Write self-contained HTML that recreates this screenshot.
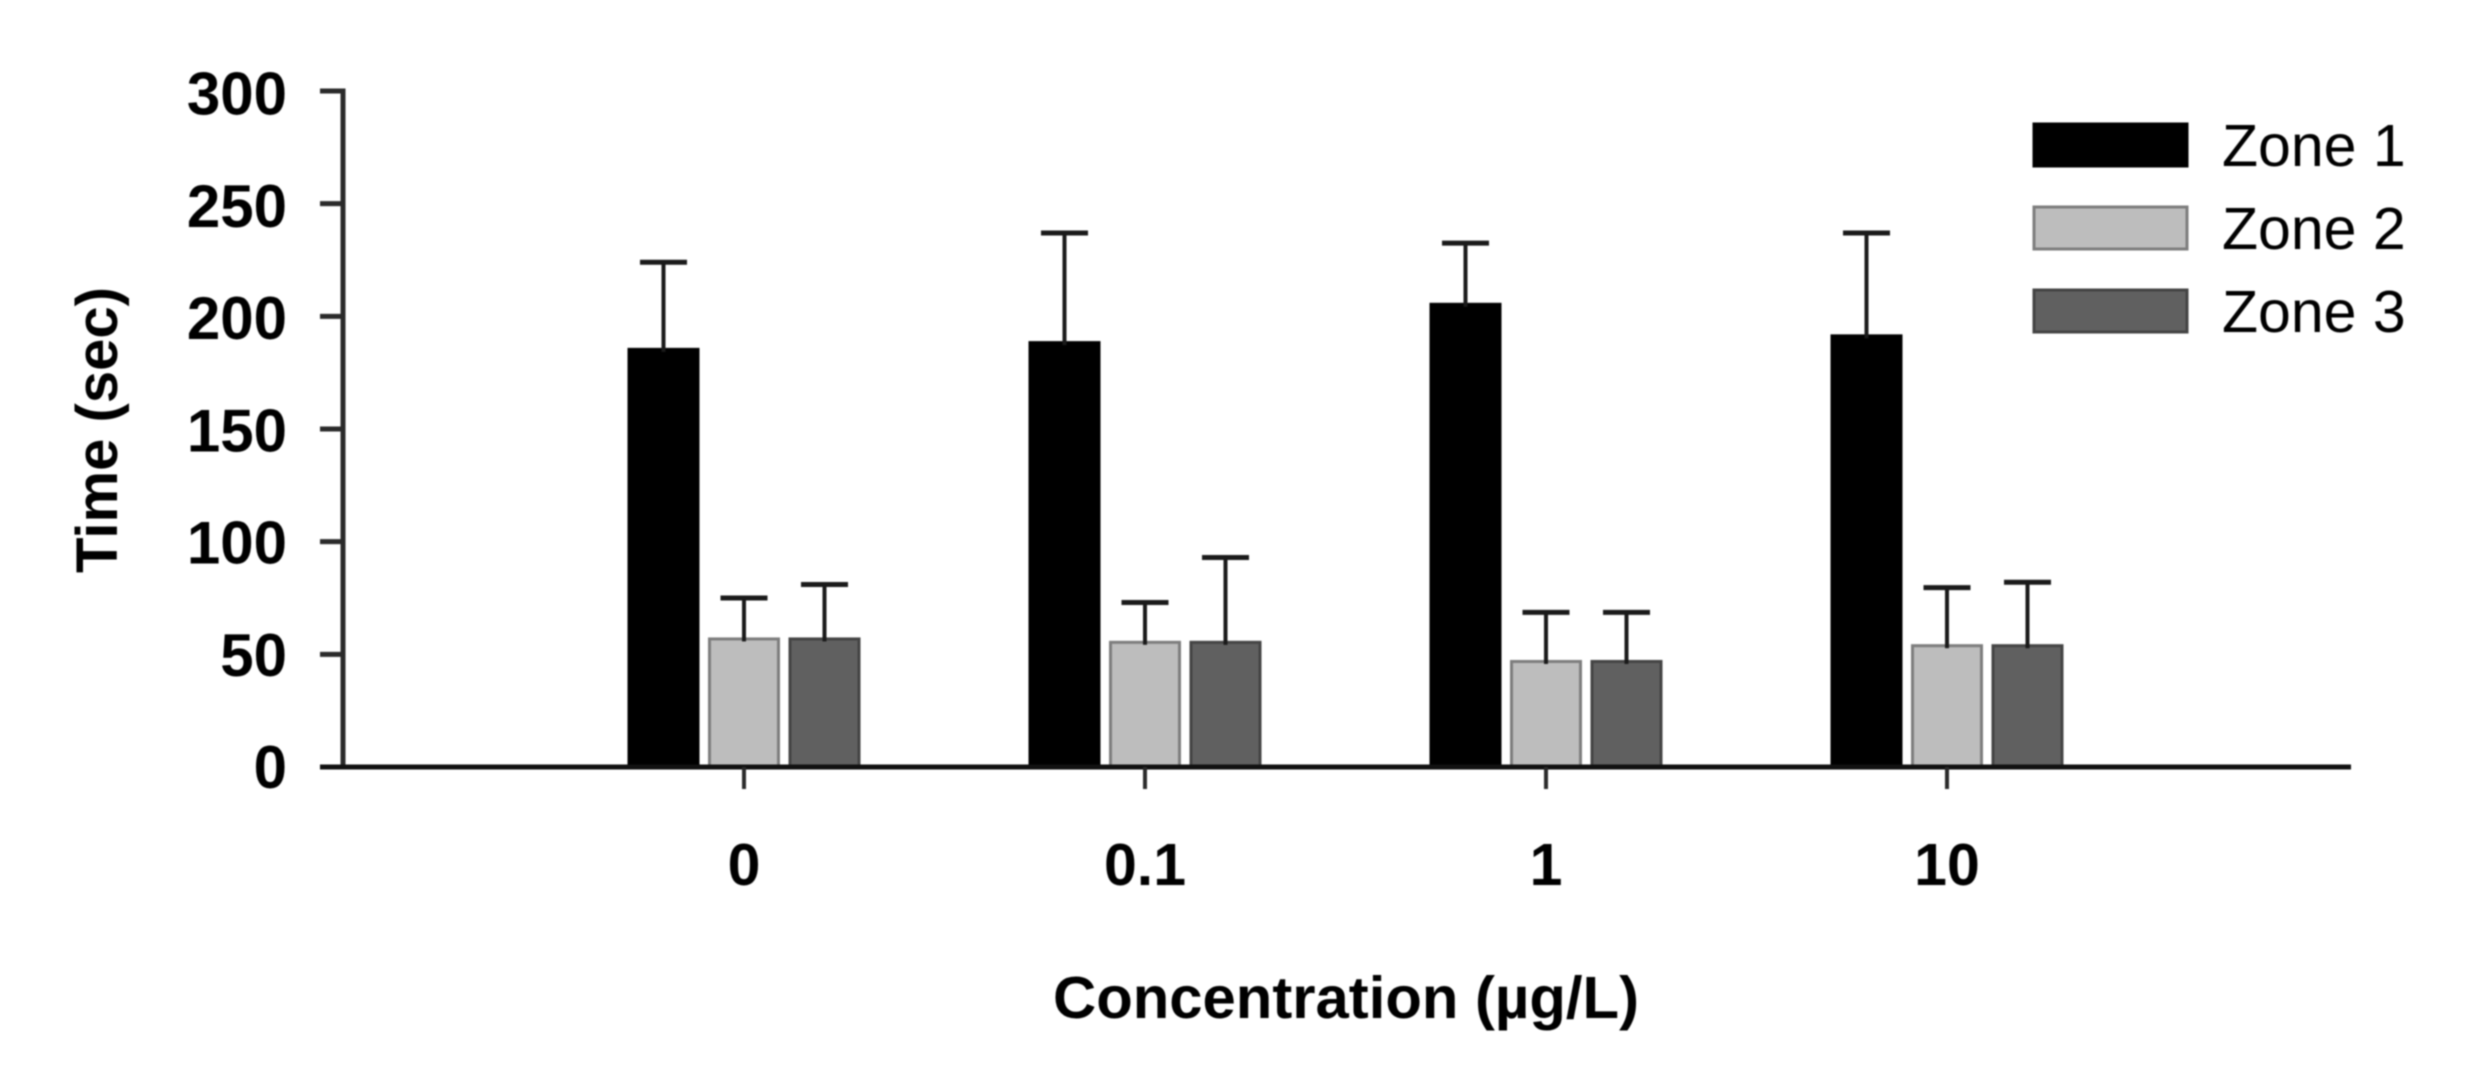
<!DOCTYPE html>
<html lang="en">
<head>
<meta charset="utf-8">
<title>Time by concentration and zone</title>
<style>
html,body{margin:0;padding:0;background:#fff;width:2477px;height:1081px;overflow:hidden}
svg{display:block;filter:blur(0.7px)}
text{font-family:"Liberation Sans",sans-serif;fill:#000}
.bold{font-weight:700}
</style>
</head>
<body>
<svg id="chart" xmlns="http://www.w3.org/2000/svg" width="2477" height="1081" viewBox="0 0 2477 1081">
<rect x="0" y="0" width="2477" height="1081" fill="#ffffff"/>
<text class="bold" font-size="58" text-anchor="middle" textLength="286" lengthAdjust="spacingAndGlyphs" transform="translate(117 430) rotate(-90)">Time (sec)</text>
<text class="bold" font-size="59" x="1053" y="1018" textLength="586" lengthAdjust="spacingAndGlyphs">Concentration (µg/L)</text>
</svg>
<script>
const categories = ['0', '0.1', '1', '10'];
const seriesNames = ['Zone 1', 'Zone 2', 'Zone 3'];
const zone1Means = [186, 189, 206, 192];
const zone2Means = [57.5, 56, 47.5, 54.5];
const zone3Means = [57.5, 56, 47.5, 54.5];
const zone1Upper = [224, 237, 232.5, 237];
const zone2Upper = [75, 73, 68.6, 79.6];
const zone3Upper = [81, 93, 68.6, 82];
const yTicks = [0, 50, 100, 150, 200, 250, 300];

const seriesMeans = [zone1Means, zone2Means, zone3Means];
const seriesUpper = [zone1Upper, zone2Upper, zone3Upper];
const seriesFill = ['#000000', '#bdbdbd', '#606060'];
const seriesStroke = ['#000000', '#7d7d7d', '#444444'];

const svg = document.getElementById('chart');
const NS = 'http://www.w3.org/2000/svg';

function yScale(v) { return 767 - (v / 300) * 676; }
function yLabelPos(v) { return yScale(v) + 21 + (v / 300) * 2.5; }
function xCenter(i) { return 744 + i * 401; }
function barCenter(i, s) { return xCenter(i) + (s - 1) * 80.5; }

function make(tag, props) {
  const el = document.createElementNS(NS, tag);
  for (const k in props) el.setAttribute(k, props[k]);
  svg.appendChild(el);
  return el;
}

/* bars */
seriesMeans.forEach(function (values, s) {
  values.forEach(function (v, i) {
    const top = yScale(v);
    const bar = make('rect', {
      x: barCenter(i, s) - 34.5, y: top + 1.5, width: 69, height: 767 - top - 1.5,
      fill: seriesFill[s], stroke: seriesStroke[s], 'stroke-width': 3
    });
    
    
  });
});

/* error bars */
seriesUpper.forEach(function (values, s) {
  values.forEach(function (v, i) {
    const cx = barCenter(i, s);
    const stem = make('line', {
      x1: cx, x2: cx, y1: yScale(seriesMeans[s][i]) + 4, y2: yScale(v),
      stroke: '#1a1a1a', 'stroke-width': 4
    });
    
    
    const cap = make('line', {
      x1: cx - 23.5, x2: cx + 23.5, y1: yScale(v), y2: yScale(v),
      stroke: '#1a1a1a', 'stroke-width': 5
    });
    
    
  });
});

/* y axis */
const yLine = make('line', { x1: 343, x2: 343, y1: yScale(300) - 2.5, y2: 769.5, stroke: '#2a2a2a', 'stroke-width': 5 });



yTicks.forEach(function (t) {
  const tick = make('line', { x1: 320, x2: 343, y1: yScale(t), y2: yScale(t), stroke: '#2a2a2a', 'stroke-width': 5 });
  
  
  const label = make('text', { x: 287, y: yLabelPos(t), 'text-anchor': 'end', 'font-size': 60, 'class': 'bold' });
  label.textContent = String(t);
  
  
});

/* x axis */
const xLine = make('line', { x1: 320, x2: 2351, y1: 767, y2: 767, stroke: '#111111', 'stroke-width': 5 });



categories.forEach(function (c, i) {
  const tick = make('line', { x1: xCenter(i), x2: xCenter(i), y1: 767, y2: 789, stroke: '#2a2a2a', 'stroke-width': 4 });
  
  
  const label = make('text', { x: xCenter(i), y: 885, 'text-anchor': 'middle', 'font-size': 59, 'class': 'bold' });
  label.textContent = c;
  
  
});

/* legend */
seriesNames.forEach(function (name, s) {
  const rowY = 124 + s * 83;
  const swatch = make('rect', {
    x: 2034, y: rowY, width: 153, height: 42,
    fill: seriesFill[s], stroke: seriesStroke[s], 'stroke-width': 3
  });
  
  
  const label = make('text', { x: 2222, y: rowY + 42, 'font-size': 59 });
  label.textContent = name;
  
  
});
</script>
</body>
</html>
